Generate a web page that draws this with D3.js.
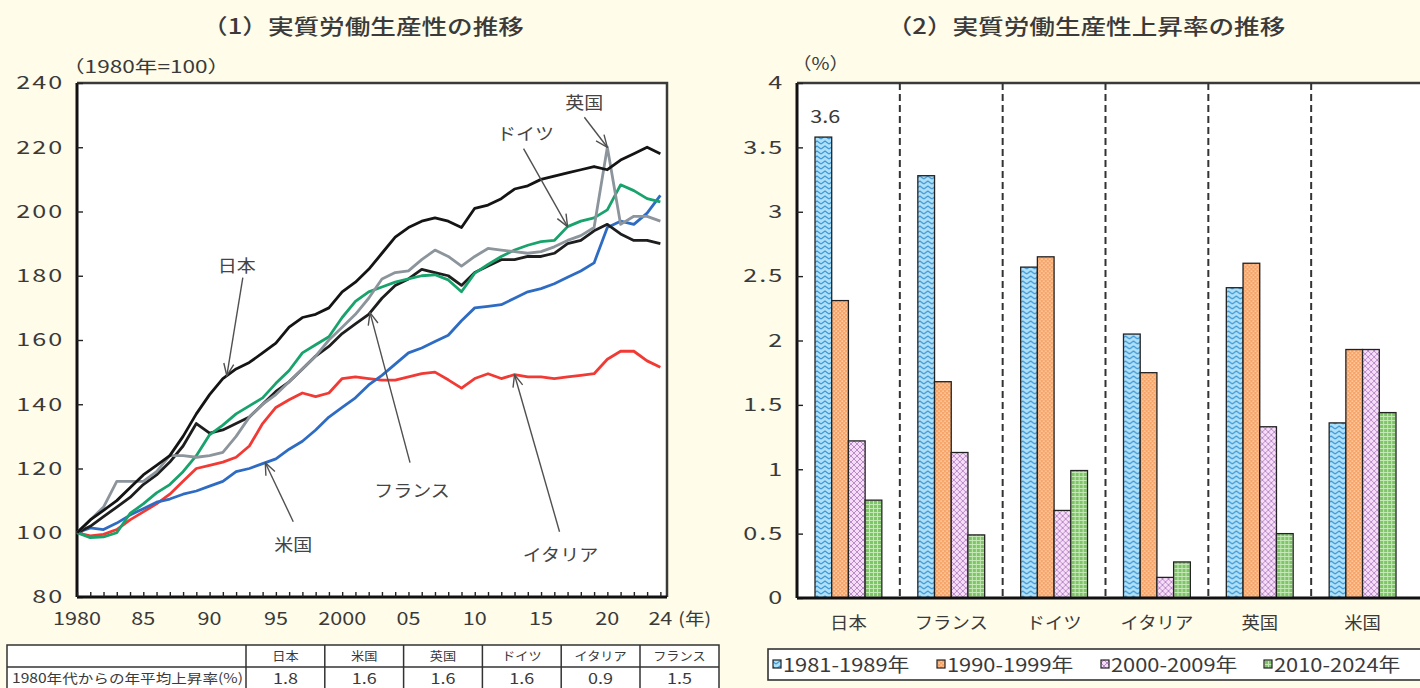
<!DOCTYPE html>
<html><head><meta charset="utf-8">
<script src="https://cdn.jsdelivr.net/npm/d3@7"></script>
<style>
html,body{margin:0;padding:0;background:#fffce9;}
svg{display:block;}
text{font-family:"Noto Sans CJK JP","Noto Sans",sans-serif;fill:#3a3a3a;}
</style></head><body>
<svg id="chart" width="1420" height="688"></svg>
<script>
// ---- (1) real labour productivity index, 1980 = 100 ----
const years = d3.range(1980, 2025);
const japan   = [100,104,107,110,114,118,121,124,130,137,143,148,151,153,156,159,164,167,168,170,175,178,182,187,192,195,197,198,197,195,201,202,204,207,208,210,211,212,213,214,213,216,218,220,218];
const france  = [100,102,105,108,111,115,118,122,127,134,131,132,134,136,140,144,147,151,155,158,162,165,168,173,177,179,182,181,180,177,181,183,185,185,186,186,187,190,191,194,196,193,191,191,190];
const germany = [100,98.5,98.7,100,106,109,112.4,115,119,124,130.5,133.5,137,139.5,142,146.5,150.5,156,158.5,161,167,172,175,176.5,178,179,180,180.3,178.7,175,180.8,183.5,186,188,189.5,190.6,191,195.3,197,198,200.5,208.3,206.5,204,203];
const uk      = [100,104,108,116,116,116,119,124,124,123.5,124,125,130,136,140,143,147,151,155,160,164,168,173,179,181,181.5,185,188,186,183,186,188.5,188,187.5,187,187.5,189,191,192.5,195,220,196,198.5,198.5,197];
const us      = [100,101.5,101,103,105.5,107.5,109.5,110.5,112,113,114.5,116,119,120,121.5,123,126,128.5,132,136,139,142,146,149,152.5,156,157.5,159.5,161.5,166,170,170.5,171,173,175,176,177.5,179.5,181.5,184,195,197,196,199.5,205];
const italy   = [100,99,99.5,101,104,106.5,109,112,116,120,121,122,123.5,127,134,139,141.4,143.5,142.4,143.5,148,148.5,148,147.5,147.5,148.5,149.5,150,147.6,145,148,149.5,148,149.2,148.5,148.5,148,148.5,149,149.5,154,156.5,156.5,153.5,151.5];
const yTicksLeft = [80,100,120,140,160,180,200,220,240];
const xLabelYears = [1980,1985,1990,1995,2000,2005,2010,2015,2020,2024];

// table under panel (1)
const tableCountries = ["日本","米国","英国","ドイツ","イタリア","フランス"];
const tableRates = [1.8,1.6,1.6,1.6,0.9,1.5];
const tableRowLabel = "1980年代からの年平均上昇率(%)";

// ---- (2) average annual growth of real labour productivity (%) ----
const countries = ["日本","フランス","ドイツ","イタリア","英国","米国"];
const periods = ["1981-1989年","1990-1999年","2000-2009年","2010-2024年"];
const rate1981_1989 = [3.58,3.28,2.57,2.05,2.41,1.36];
const rate1990_1999 = [2.31,1.68,2.65,1.75,2.60,1.93];
const rate2000_2009 = [1.22,1.13,0.68,0.16,1.33,1.93];
const rate2010_2024 = [0.76,0.49,0.99,0.28,0.50,1.44];
const yTicksRight = [0,0.5,1,1.5,2,2.5,3,3.5,4];

const SX = 1.2; // horizontal text stretch used throughout
const svg = d3.select("#chart");

function label(parent, x, y, s, o = {}) {
  const t = parent.append("text")
    .attr("transform", `translate(${x},${y}) scale(${o.sx ?? SX},1)`)
    .attr("text-anchor", o.anchor || "middle")
    .style("font-size", (o.size || 17) + "px")
    .text(s);
  if (o.color) t.style("fill", o.color);
  if (o.weight) t.style("font-weight", o.weight);
  return t;
}

// ---------- patterns and markers ----------
const defs = svg.append("defs");
function pattern(id, w, h, base, draw) {
  const p = defs.append("pattern").attr("id", id).attr("patternUnits", "userSpaceOnUse")
    .attr("width", w).attr("height", h);
  p.append("rect").attr("width", w).attr("height", h).attr("fill", base);
  draw(p);
}
pattern("pBlue", 8, 5, "#aee0f8", p => p.append("path").attr("d", "M0,4 L4,1 L8,4")
  .attr("fill", "none").attr("stroke", "#3f97d6").attr("stroke-width", 1.2));
pattern("pOrange", 4, 4, "#f6a468", p => {
  p.append("rect").attr("x", 0.5).attr("y", 0.5).attr("width", 1.3).attr("height", 1.3).attr("fill", "#fde3cc");
  p.append("rect").attr("x", 2.5).attr("y", 2.5).attr("width", 1.3).attr("height", 1.3).attr("fill", "#fde3cc");
});
pattern("pPink", 6, 6, "#f7dcf7", p => p.append("path").attr("d", "M0,0 L6,6 M6,0 L0,6")
  .attr("stroke", "#b88cc8").attr("stroke-width", 1));
pattern("pGreen", 4, 4, "#7dc567", p => p.append("path").attr("d", "M0,0.5 H4 M0.5,0 V4")
  .attr("stroke", "#c5e9b6").attr("stroke-width", 1));
const periodFills = ["url(#pBlue)", "url(#pOrange)", "url(#pPink)", "url(#pGreen)"];

defs.append("marker").attr("id", "arrowOpen").attr("viewBox", "0 0 14 14")
  .attr("refX", 13).attr("refY", 7).attr("markerWidth", 14).attr("markerHeight", 14)
  .attr("markerUnits", "userSpaceOnUse").attr("orient", "auto")
  .append("path").attr("d", "M1,2 L13,7 L1,12").attr("fill", "none")
  .attr("stroke", "#505050").attr("stroke-width", 1.4);

// ================= Panel (1) =================
const L = { left: 77, right: 667, top: 83, bottom: 597 };
const x1 = d3.scaleLinear().domain([1980, 2024.5]).range([L.left, L.right]);
const y1 = d3.scaleLinear().domain([80, 240]).range([L.bottom, L.top]);

label(svg, 363, 34, "（1）実質労働生産性の推移", { size: 21, sx: 1.22, weight: 500 });
label(svg, 62, 73, "（1980年=100）", { size: 17, anchor: "start", sx: 1.33 });

const g1 = svg.append("g");
g1.append("rect").attr("x", L.left).attr("y", L.top).attr("width", L.right - L.left)
  .attr("height", L.bottom - L.top).attr("fill", "#ffffff");
g1.append("path").attr("d", `M${L.left},${L.top} H${L.right} V${L.bottom}`)
  .attr("fill", "none").attr("stroke", "#3a3a3a").attr("stroke-width", 2.5);

const yAx1 = g1.append("g").attr("transform", `translate(${L.left},0)`)
  .call(d3.axisLeft(y1).tickValues(yTicksLeft).tickSize(-6).tickPadding(9));
yAx1.selectAll("text").attr("transform", `scale(1.4,1)`).style("font-size", "18px")
  .style("letter-spacing", "1.5px");

const xAx1 = g1.append("g").attr("transform", `translate(0,${L.bottom})`)
  .call(d3.axisBottom(x1).tickValues(years).tickSize(-5).tickFormat(""));
[yAx1, xAx1].forEach(a => {
  a.select(".domain").attr("stroke", "#111").attr("stroke-width", 3);
  a.selectAll(".tick line").attr("stroke", "#222").attr("stroke-width", 1.4);
});
xAx1.select(".domain").attr("d", `M${L.left},0 H${L.right}`);
yAx1.select(".domain").attr("d", `M0,${L.bottom} V${L.top}`);

xLabelYears.forEach(yr => {
  const s = (yr === 1980 || yr === 2000) ? String(yr) : String(yr % 100).padStart(2, "0");
  label(g1, x1(yr), 625, s, { size: 18, sx: 1.2 });
});
label(g1, x1(2024) + 18, 625, "(年)", { size: 17, anchor: "start", sx: 1.15 });

const lineGen = d3.line().x((d, i) => x1(years[i])).y(d => y1(d));
const seriesList = [
  { name: "イタリア", values: italy,   color: "#f23a35" },
  { name: "米国",     values: us,      color: "#2e6cc4" },
  { name: "フランス", values: france,  color: "#1e1e1e" },
  { name: "ドイツ",   values: germany, color: "#18a36c" },
  { name: "英国",     values: uk,      color: "#8c949c" },
  { name: "日本",     values: japan,   color: "#141414" }
];
g1.selectAll("path.series").data(seriesList).join("path").attr("class", "series")
  .attr("d", d => lineGen(d.values)).attr("fill", "none")
  .attr("stroke", d => d.color).attr("stroke-width", 2.8).attr("stroke-linejoin", "round");

// callouts: the arrow tip sits on the series at the given year
const callouts = [
  { text: "日本",     values: japan,   year: 1991.3, dx: 16,  dy: -98, lx: 10,  ly: -104 },
  { text: "フランス", values: france,  year: 2002.1, dx: 40,  dy: 150, lx: 42,  ly: 184 },
  { text: "米国",     values: us,      year: 1994.2, dx: 28,  dy: 59,  lx: 28,  ly: 88 },
  { text: "イタリア", values: italy,   year: 2013.0, dx: 45,  dy: 157, lx: 46,  ly: 186 },
  { text: "ドイツ",   values: germany, year: 2017.0, dx: -44, dy: -78, lx: -42, ly: -87 },
  { text: "英国",     values: uk,      year: 2020.0, dx: -23, dy: -30, lx: -23, ly: -38 }
];
const interp = (vals, yr) => {
  const i = Math.floor(yr - 1980), f = yr - 1980 - i;
  return vals[i] + (vals[Math.min(i + 1, vals.length - 1)] - vals[i]) * f;
};
callouts.forEach(c => {
  const tx = x1(c.year), ty = y1(interp(c.values, c.year));
  g1.append("line").attr("x1", tx + c.dx).attr("y1", ty + c.dy).attr("x2", tx).attr("y2", ty)
    .attr("stroke", "#505050").attr("stroke-width", 1.4).attr("marker-end", "url(#arrowOpen)");
  label(g1, tx + c.lx, ty + c.ly, c.text, { size: 17, sx: 1.12, color: "#444" });
});

// table
const T = { left: 7, top: 645, colStart: 246, colW: 78.8, rowH: 22 };
const tg = svg.append("g");
tg.append("rect").attr("x", T.left).attr("y", T.top).attr("width", 719 - T.left).attr("height", 60)
  .attr("fill", "#ffffff").attr("stroke", "#333").attr("stroke-width", 1.5);
tg.append("line").attr("x1", T.left).attr("x2", 719).attr("y1", T.top + T.rowH).attr("y2", T.top + T.rowH)
  .attr("stroke", "#333").attr("stroke-width", 1.5);
tableCountries.forEach((c, i) => {
  const cx = T.colStart + T.colW * i;
  tg.append("line").attr("x1", cx).attr("x2", cx).attr("y1", T.top).attr("y2", 688)
    .attr("stroke", "#333").attr("stroke-width", 1.5);
  label(tg, cx + T.colW / 2, T.top + 16, c, { size: 12, sx: 1.1 });
  label(tg, cx + T.colW / 2, T.top + T.rowH + 17, d3.format(".1f")(tableRates[i]), { size: 15, sx: 1.2 });
});
label(tg, T.left + 5, T.top + T.rowH + 16, tableRowLabel, { size: 13, anchor: "start", sx: 1.2 });

// ================= Panel (2) =================
const R = { left: 797, right: 1414, top: 83, bottom: 598 };
const x2 = d3.scaleBand().domain(countries).range([R.left, R.right]).paddingInner(0);
const xSub = d3.scaleBand().domain(periods).range([x2.bandwidth() * 0.175, x2.bandwidth() * 0.825]);
const y2 = d3.scaleLinear().domain([0, 4]).range([R.bottom, R.top]);
const rates = [rate1981_1989, rate1990_1999, rate2000_2009, rate2010_2024];

label(svg, 1086, 34, "（2）実質労働生産性上昇率の推移", { size: 21, sx: 1.22, weight: 500 });
label(svg, 792, 70, "（%）", { size: 17, anchor: "start", sx: 1.15 });

const g2 = svg.append("g");
g2.append("rect").attr("x", R.left).attr("y", R.top).attr("width", 1420 - R.left)
  .attr("height", R.bottom - R.top).attr("fill", "#ffffff");
g2.append("line").attr("x1", R.left).attr("x2", 1420).attr("y1", R.top).attr("y2", R.top)
  .attr("stroke", "#3a3a3a").attr("stroke-width", 2.5);

countries.slice(1).forEach(c => {
  g2.append("line").attr("x1", x2(c)).attr("x2", x2(c)).attr("y1", R.top).attr("y2", R.bottom)
    .attr("stroke", "#333").attr("stroke-width", 2).attr("stroke-dasharray", "7,4");
});

const groups = g2.selectAll("g.grp").data(countries).join("g").attr("class", "grp")
  .attr("transform", c => `translate(${x2(c)},0)`);
groups.selectAll("rect").data((c, ci) => periods.map((p, pi) => ({ p, pi, v: rates[pi][ci] })))
  .join("rect")
  .attr("x", d => xSub(d.p)).attr("width", xSub.bandwidth())
  .attr("y", d => y2(d.v)).attr("height", d => y2(0) - y2(d.v))
  .attr("fill", d => periodFills[d.pi]).attr("stroke", "#222").attr("stroke-width", 1.3);

label(g2, x2(countries[0]) + xSub(periods[0]) + xSub.bandwidth() / 2 + 2, y2(rate1981_1989[0]) - 14,
  d3.format(".1f")(rate1981_1989[0]), { size: 18, sx: 1.2 });

const yAx2 = g2.append("g").attr("transform", `translate(${R.left},0)`)
  .call(d3.axisLeft(y2).tickValues(yTicksRight).tickSize(-6).tickPadding(9).tickFormat(d => String(d)));
yAx2.selectAll("text").attr("transform", `scale(1.4,1)`).style("font-size", "18px")
  .style("letter-spacing", "1.5px");
const xAx2 = g2.append("g").attr("transform", `translate(0,${R.bottom})`)
  .call(d3.axisBottom(x2).tickSize(0).tickFormat(""));
[yAx2, xAx2].forEach(a => {
  a.select(".domain").attr("stroke", "#111").attr("stroke-width", 3);
  a.selectAll(".tick line").attr("stroke", "#222").attr("stroke-width", 1.4);
});
xAx2.select(".domain").attr("d", `M${R.left},0 H1420`);
yAx2.select(".domain").attr("d", `M0,${R.bottom} V${R.top}`);
countries.forEach(c => label(g2, x2(c) + x2.bandwidth() / 2, 629, c, { size: 17, sx: 1.08 }));

// legend
const lg = svg.append("g");
lg.append("rect").attr("x", 768).attr("y", 649).attr("width", 700).attr("height", 31)
  .attr("fill", "#ffffff").attr("stroke", "#333").attr("stroke-width", 1.6);
const legendX = [773, 937, 1101, 1264];
periods.forEach((p, i) => {
  lg.append("rect").attr("x", legendX[i]).attr("y", 660).attr("width", 8).attr("height", 8)
    .attr("fill", periodFills[i]).attr("stroke", "#222").attr("stroke-width", 1.2);
  label(lg, legendX[i] + 10, 672, p, { size: 19, anchor: "start", sx: 1.15 });
});
</script>
</body></html>
